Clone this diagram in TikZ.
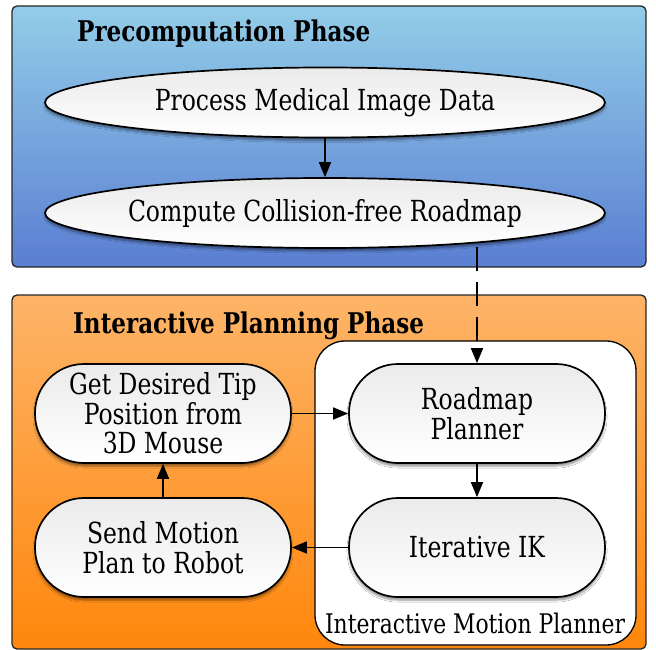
\documentclass[tikz,border=0pt]{standalone}
\usepackage{fontspec}
\setmainfont{DejaVu Serif Condensed}[FakeStretch=0.9]
\usetikzlibrary{shapes.geometric,arrows.meta,shadows.blur}
\definecolor{bluetop}{HTML}{93CDE8}
\definecolor{bluebot}{HTML}{5A7ED2}
\definecolor{orangetop}{HTML}{FDB468}
\definecolor{orangebot}{HTML}{FF870C}
\tikzset{
  phasebox/.style={draw=black!85, line width=1.3pt, rounded corners=5pt},
  phasetitle/.style={anchor=west, font=\bfseries\fontsize{28.5}{30}\selectfont, inner sep=0pt},
  ovalbox/.style={ellipse, draw=black, line width=1.7pt, minimum width=560pt, minimum height=70pt, inner sep=0pt,
    top color=black!8, bottom color=white, font=\fontsize{29}{30}\selectfont,
    blur shadow={shadow xshift=0pt, shadow yshift=-3pt, shadow blur steps=6, shadow opacity=45}},
  pill/.style={rectangle, rounded corners=49pt, draw=black, line width=1.7pt, minimum width=256pt, minimum height=99pt,
    inner sep=0pt, align=center, top color=black!8, bottom color=white, font=\fontsize{29}{29.5}\selectfont,
    blur shadow={shadow xshift=0pt, shadow yshift=-3pt, shadow blur steps=6, shadow opacity=45}},
  conn/.style={line width=1.6pt, -{Triangle[length=15pt,width=12pt]}},
}
\begin{document}
\begin{tikzpicture}[x=1pt,y=-1pt]
\useasboundingbox (0,0) rectangle (656,650);
% Precomputation phase
\path[phasebox, top color=bluetop, bottom color=bluebot] (12,6) rectangle (646,267);
\node[phasetitle] (pretitle) at (77,34) {Precomputation Phase};
\node[ovalbox] (proc) at (325,102.5) {Process Medical Image Data};
\node[ovalbox] (comp) at (325,213) {Compute Collision-free Roadmap};
% Interactive planning phase
\path[phasebox, top color=orangetop, bottom color=orangebot] (12,295) rectangle (646,649);
\node[phasetitle] (inttitle) at (73,326) {Interactive Planning Phase};
\draw[line width=1.3pt, fill=white, rounded corners=30pt] (315,341) rectangle (636,645);
\node[font=\fontsize{27}{30}\selectfont, inner sep=0pt] (implabel) at (475,623) {Interactive Motion Planner};
\node[pill] (road) at (477,413.5) {Roadmap\\Planner};
\node[pill] (ik) at (477,547.5) {Iterative IK};
\node[pill] (tip) at (163,413.5) {Get Desired Tip\\Position from\\3D Mouse};
\node[pill] (send) at (163,547.5) {Send Motion\\Plan to Robot};
% connectors
\draw[conn] (proc) -- (comp);
\coordinate (dstart) at (477,247);
\draw[conn, dash pattern=on 24pt off 11pt] (dstart) -- (road.north);
\draw[conn] (tip) -- (road);
\draw[conn] (road) -- (ik);
\draw[conn] (ik) -- (send);
\draw[conn] (send) -- (tip);
\end{tikzpicture}
\end{document}
